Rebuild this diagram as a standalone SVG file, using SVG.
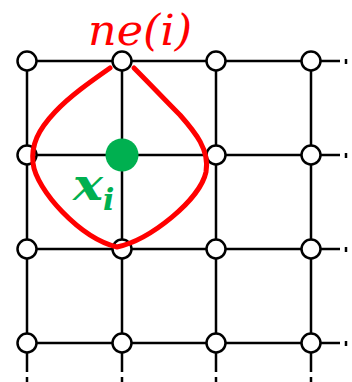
<svg xmlns="http://www.w3.org/2000/svg" width="352" height="382" viewBox="0 0 352 382">
<style>
.ln{stroke:#000;stroke-width:2.5;fill:none}
.dot{stroke:#000;stroke-width:2.5}
.nd{fill:#fff;stroke:#000;stroke-width:2.5}
</style>
<rect width="352" height="382" fill="#fff"/>
<g id="connectors">
<path class="ln" d="M27,61H340M27,155H340M27,249H340M27,343H340"/>
<path class="ln" d="M27,61V372M122,61V372M216,61V372M311,61V372"/>
<path class="dot" d="M346,59v5M346,153v5M346,247v5M346,341v5"/>
<path class="dot" d="M27,377v5M122,377v5M216,377v5M311,377v5"/>
</g>
<g id="nodes">
<g id="n00"><circle class="nd" cx="27" cy="61" r="9.5"/></g>
<g id="n01"><circle class="nd" cx="122" cy="61" r="9.5"/></g>
<g id="n02"><circle class="nd" cx="216" cy="61" r="9.5"/></g>
<g id="n03"><circle class="nd" cx="311" cy="61" r="9.5"/></g>
<g id="n10"><circle class="nd" cx="27" cy="155" r="9.5"/></g>
<g id="n12"><circle class="nd" cx="216" cy="155" r="9.5"/></g>
<g id="n13"><circle class="nd" cx="311" cy="155" r="9.5"/></g>
<g id="n20"><circle class="nd" cx="27" cy="249" r="9.5"/></g>
<g id="n21"><circle class="nd" cx="122" cy="249" r="9.5"/></g>
<g id="n22"><circle class="nd" cx="216" cy="249" r="9.5"/></g>
<g id="n23"><circle class="nd" cx="311" cy="249" r="9.5"/></g>
<g id="n30"><circle class="nd" cx="27" cy="343" r="9.5"/></g>
<g id="n31"><circle class="nd" cx="122" cy="343" r="9.5"/></g>
<g id="n32"><circle class="nd" cx="216" cy="343" r="9.5"/></g>
<g id="n33"><circle class="nd" cx="311" cy="343" r="9.5"/></g>
<g id="xi"><circle cx="122" cy="155" r="16.5" fill="#00B050"/>
<text x="73" y="200" font-family="DejaVu Serif, serif" font-style="italic" font-weight="bold" font-size="44" fill="#00B050" textLength="30" lengthAdjust="spacingAndGlyphs">x</text>
<text x="103" y="210" font-family="DejaVu Serif, serif" font-style="italic" font-weight="bold" font-size="30" fill="#00B050">i</text>
</g>
</g>
<g id="neighbourhood">
<path d="M110,68 C90,82 70,96 55,112 C38,130 31,145 33,163 C36,190 80,238 117,247 C150,240 200,200 206,172 C210,150 195,132 180,115 C165,100 150,84 134,68" fill="none" stroke="#FF0000" stroke-width="5" stroke-linecap="round"/>
<text x="88" y="45" font-family="DejaVu Serif, serif" font-style="italic" font-size="42" fill="#FF0000" textLength="104" lengthAdjust="spacingAndGlyphs">ne(i)</text>
</g>
</svg>
